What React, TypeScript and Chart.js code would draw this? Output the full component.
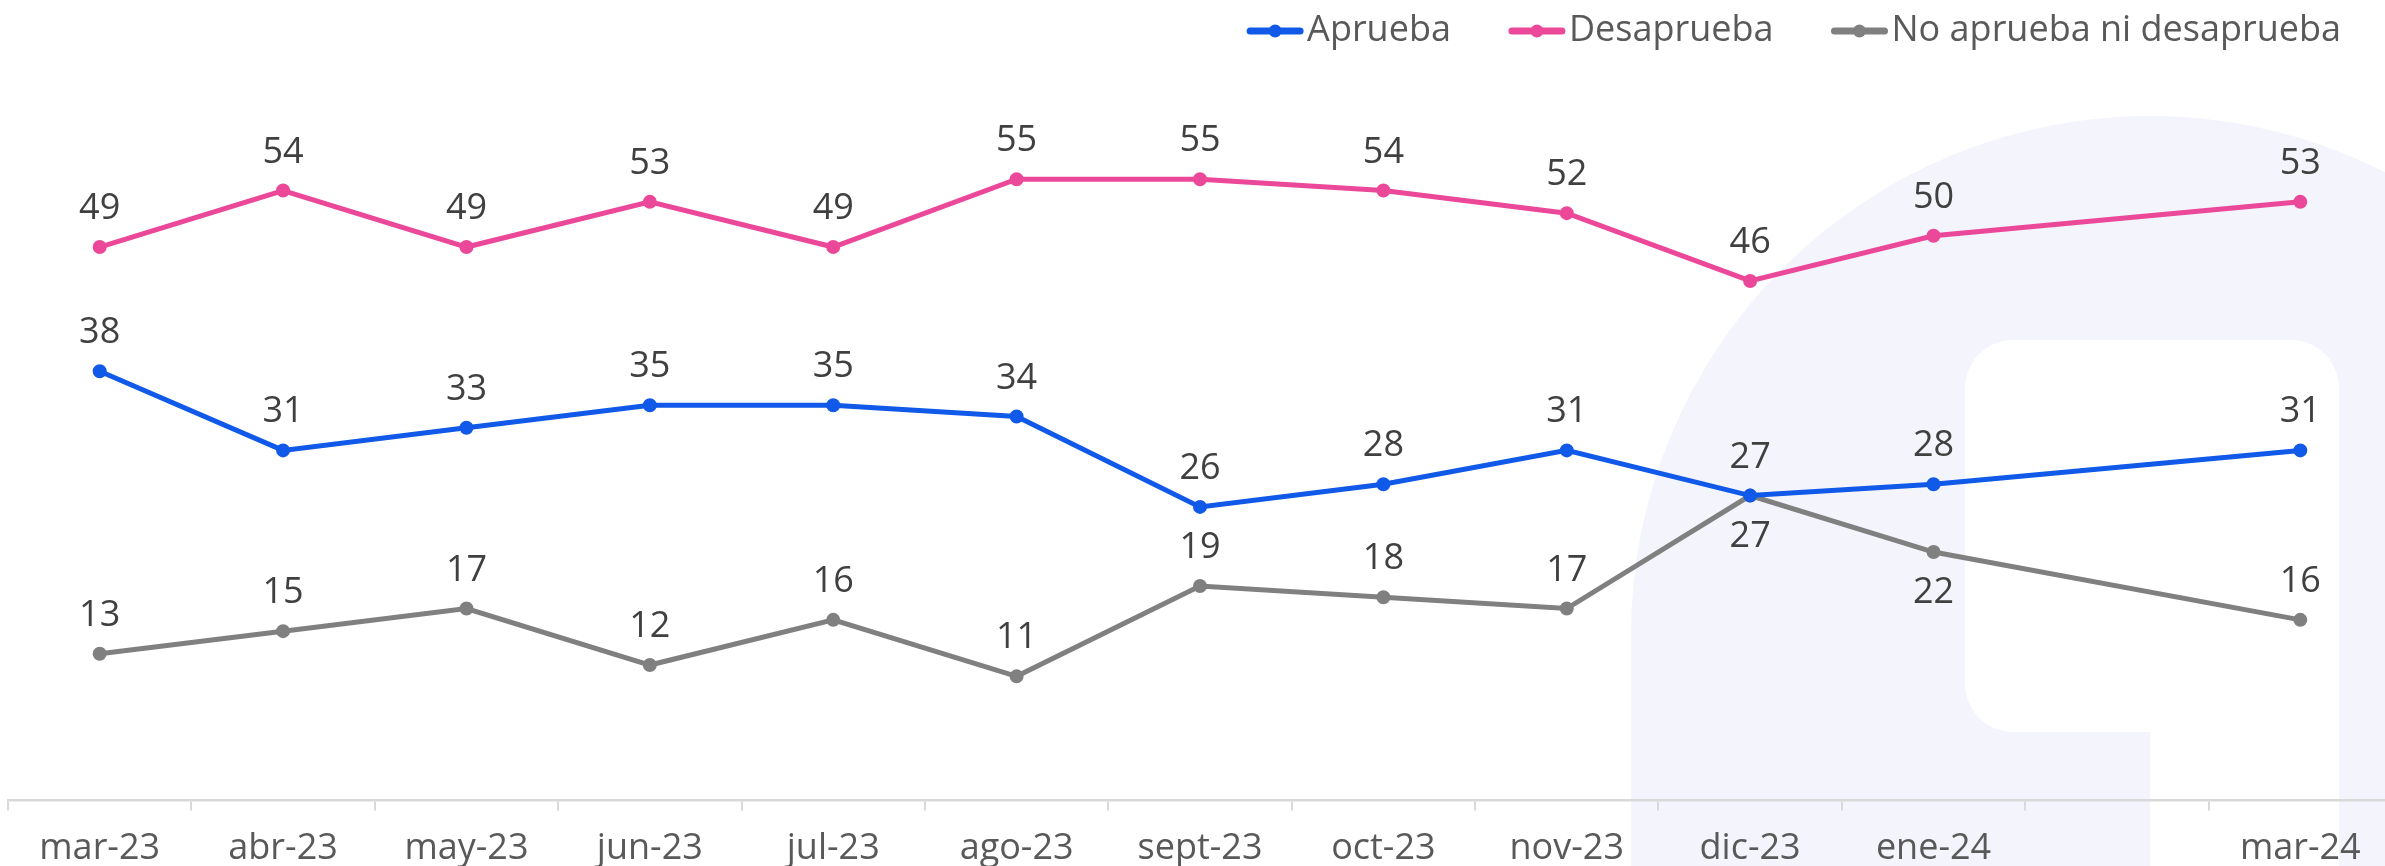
import React, { useEffect, useRef } from 'react';
import { Chart, registerables } from 'chart.js';

Chart.register(...registerables);

// ---------- data ----------
const categories = ['mar-23', 'abr-23', 'may-23', 'jun-23', 'jul-23', 'ago-23', 'sept-23', 'oct-23', 'nov-23', 'dic-23', 'ene-24', '', 'mar-24'];
const aprueba = [38, 31, 33, 35, 35, 34, 26, 28, 31, 27, 28, null, 31];
const desaprueba = [49, 54, 49, 53, 49, 55, 55, 54, 52, 46, 50, null, 53];
const noApruebaNiDesaprueba = [13, 15, 17, 12, 16, 11, 19, 18, 17, 27, 22, null, 16];
const seriesNames = ['Aprueba', 'Desaprueba', 'No aprueba ni desaprueba'];
const seriesColors = ['#1159E8', '#EC4899', '#808080'];
// indices whose value label sits under the point, per series
const labelsBelow: number[][] = [[], [], [9, 10]];
const yMin = 0;
const yMax = 66;

const FONT = '"Open Sans", "DejaVu Sans", sans-serif';
const CANVAS_W = 2400;
const CANVAS_H = 888;

const watermarkPlugin = {
  id: 'watermark',
  beforeDraw(chart: any) {
    const ctx = chart.ctx;
    ctx.save();
    ctx.fillStyle = '#f3f4fc';
    ctx.beginPath();
    ctx.arc(2150, 635, 519, Math.PI, 0);
    ctx.lineTo(2669, 900);
    ctx.lineTo(1631, 900);
    ctx.closePath();
    ctx.fill();
    ctx.fillStyle = '#ffffff';
    ctx.beginPath();
    ctx.roundRect(1965, 340, 374, 392, 48);
    ctx.fill();
    ctx.beginPath();
    ctx.rect(2150, 690, 189, 220);
    ctx.fill();
    ctx.restore();
  },
};

const valueLabelPlugin = {
  id: 'valueLabels',
  afterDatasetsDraw(chart: any) {
    const ctx = chart.ctx;
    ctx.save();
    ctx.font = `36px ${FONT}`;
    ctx.fillStyle = '#404040';
    ctx.textAlign = 'center';
    ctx.textBaseline = 'alphabetic';
    chart.data.datasets.forEach((ds: any, di: number) => {
      const meta = chart.getDatasetMeta(di);
      meta.data.forEach((pt: any, i: number) => {
        const v = ds.data[i];
        if (v === null || v === undefined) return;
        const below = labelsBelow[di].includes(i);
        const y = below ? pt.y + 51 : pt.y - 28;
        ctx.fillText(String(v), pt.x, y);
      });
    });
    ctx.restore();
  },
};

const legendPlugin = {
  id: 'customLegend',
  afterDraw(chart: any) {
    const ctx = chart.ctx;
    ctx.save();
    ctx.font = `36px ${FONT}`;
    ctx.textBaseline = 'alphabetic';
    ctx.textAlign = 'left';
    let x = 2341;
    const datasets = chart.data.datasets;
    for (let i = datasets.length - 1; i >= 0; i--) {
      const ds = datasets[i];
      const w = ctx.measureText(ds.label).width;
      const textStart = x - w;
      ctx.fillStyle = '#595959';
      ctx.fillText(ds.label, textStart, 40.5);
      const lineEnd = textStart - 4;
      const lineStart = lineEnd - 56;
      ctx.strokeStyle = ds.borderColor;
      ctx.lineWidth = 7;
      ctx.lineCap = 'round';
      ctx.beginPath();
      ctx.moveTo(lineStart + 3, 31);
      ctx.lineTo(lineEnd - 3, 31);
      ctx.stroke();
      ctx.fillStyle = ds.borderColor;
      ctx.beginPath();
      ctx.arc((lineStart + lineEnd) / 2, 31, 6.5, 0, Math.PI * 2);
      ctx.fill();
      x = lineStart - 58;
    }
    ctx.restore();
  },
};

export default function App() {
  const canvasRef = useRef<HTMLCanvasElement | null>(null);

  useEffect(() => {
    document.body.style.overflow = 'hidden';
    const canvas = canvasRef.current;
    if (!canvas) return;
    const seriesData = [aprueba, desaprueba, noApruebaNiDesaprueba];
    const chart = new Chart(canvas, {
      type: 'line',
      data: {
        labels: categories,
        datasets: seriesData.map((d, i) => ({
          label: seriesNames[i],
          data: d,
          borderColor: seriesColors[i],
          backgroundColor: seriesColors[i],
          pointBackgroundColor: seriesColors[i],
          pointBorderColor: seriesColors[i],
          borderWidth: 5,
          pointRadius: 6,
          pointBorderWidth: 2,
          tension: 0,
          spanGaps: true,
          fill: false,
        })),
      },
      options: {
        responsive: false,
        animation: false,
        devicePixelRatio: 1,
        layout: { padding: { left: 4.8, right: 5.2, top: 55, bottom: 1.4 } },
        plugins: {
          legend: { display: false },
          tooltip: { enabled: false },
          title: { display: false },
        },
        scales: {
          x: {
            type: 'category',
            offset: true,
            grid: {
              offset: true,
              drawOnChartArea: false,
              drawTicks: true,
              tickLength: 10,
              color: '#d9d9d9',
              lineWidth: 2,
            },
            border: { display: true, color: '#d9d9d9', width: 2.5 },
            ticks: {
              color: '#595959',
              font: { family: FONT, size: 36, lineHeight: 1 },
              padding: 20,
              autoSkip: false,
              maxRotation: 0,
              minRotation: 0,
            },
          },
          y: {
            display: false,
            min: yMin,
            max: yMax,
          },
        },
      },
      plugins: [watermarkPlugin, valueLabelPlugin, legendPlugin],
    });
    return () => chart.destroy();
  }, []);

  return (
    <div style={{ position: 'fixed', left: 0, top: 0, width: CANVAS_W, height: CANVAS_H, background: '#ffffff' }}>
      <canvas ref={canvasRef} width={CANVAS_W} height={CANVAS_H} style={{ display: 'block', width: CANVAS_W, height: CANVAS_H }} />
    </div>
  );
}
